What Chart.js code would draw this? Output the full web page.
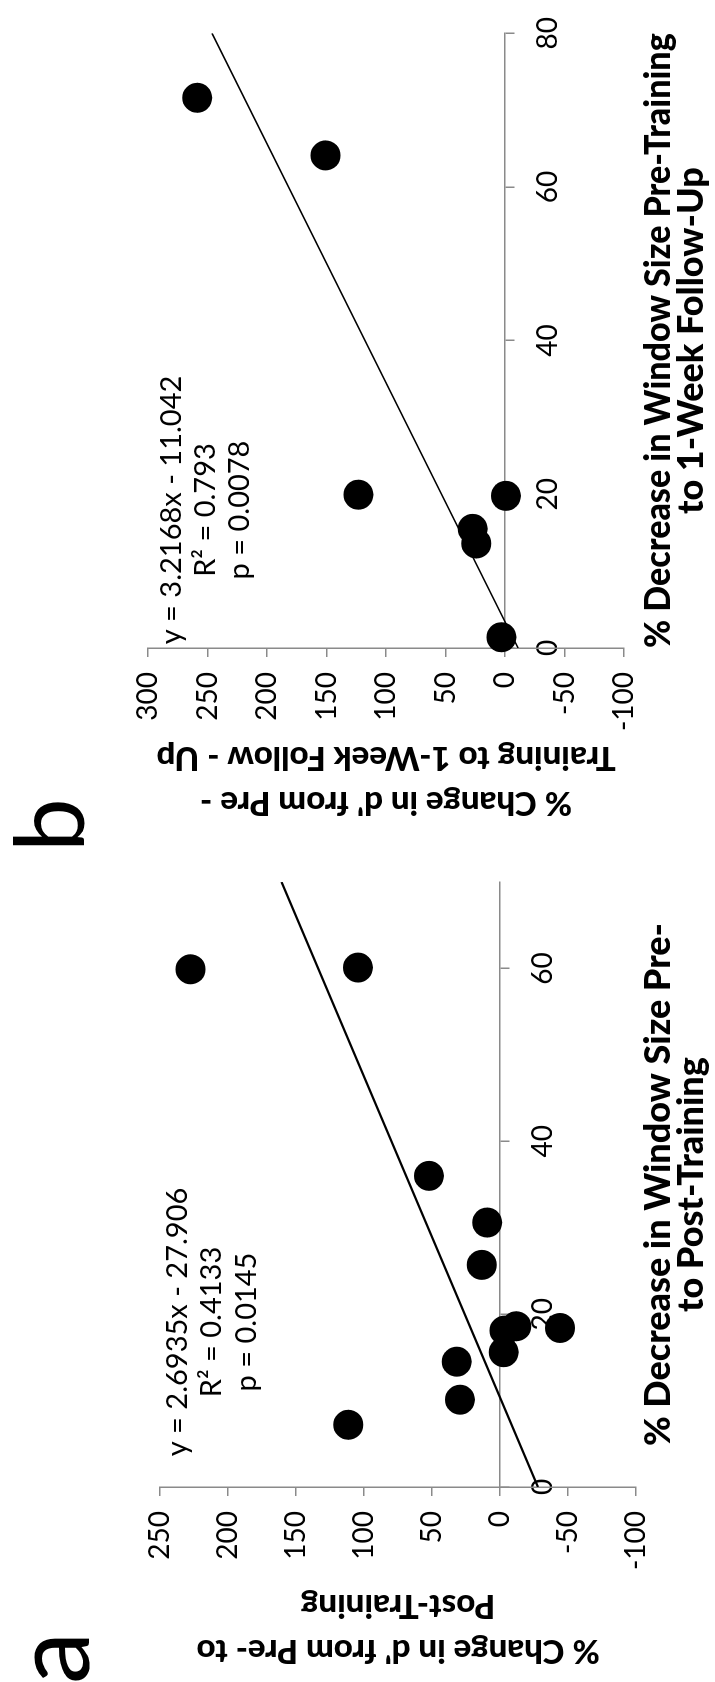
<!DOCTYPE html>
<html>
<head>
<meta charset="utf-8">
<title>Window size decrease vs change in d'</title>
<script src="https://cdn.jsdelivr.net/npm/chart.js@4.4.1/dist/chart.umd.min.js"></script>
<style>
  html, body { margin: 0; padding: 0; background: #fff; overflow: hidden; }
  body { width: 715px; height: 1682px; position: relative; }
  /* the two-panel figure is laid out landscape and turned a quarter-turn counter-clockwise */
  #figure {
    position: absolute; left: 0; top: 0;
    width: 1682px; height: 715px;
    transform-origin: 0 0;
    transform: translate(0, 1682px) rotate(-90deg);
    background: #fff;
  }
  #figure canvas { position: absolute; top: 0; }
</style>
</head>
<body>
<div id="figure">
  <canvas id="panelA" width="815" height="715" style="left:0px"></canvas>
  <canvas id="panelB" width="867" height="715" style="left:815px"></canvas>
</div>
<script>
// ---- Panel a: pre- to post-training ----
const aWindowDecrease = [59.9, 60.1, 36.0, 30.6, 25.7, 18.6, 18.1, 18.4, 15.6, 14.5, 10.1, 7.2];
const aDprimeChange   = [227.5, 104.4, 52.2, 9.4, 13.4, -12.0, -3.3, -44.2, -2.7, 31.8, 29.4, 111.5];
const aSlope = 2.6935, aIntercept = -27.906, aR2 = '0.4133', aP = '0.0145';
const aXRange = [0, 70], aYRange = [-100, 250];

// ---- Panel b: pre-training to 1-week follow-up ----
const bWindowDecrease = [71.6, 64.1, 19.95, 19.8, 15.5, 13.6, 1.4];
const bDprimeChange   = [258.6, 150.8, 123.2, -0.8, 27.2, 24.1, 3.0];
const bSlope = 3.2168, bIntercept = -11.042, bR2 = '0.793', bP = '0.0078';
const bXRange = [0, 80], bYRange = [-100, 300];

const xTickStep = 20, yTickStep = 50;

const aXTitle = ['% Decrease in Window Size Pre-', 'to Post-Training'];
const aYTitle = ["% Change in d' from Pre- to", 'Post-Training'];
const bXTitle = ['% Decrease in Window Size Pre-Training', 'to 1-Week Follow-Up'];
const bYTitle = ["% Change in d' from Pre -", 'Training to 1-Week Follow - Up'];

const AXIS_GREY = '#8a8a8a';
const FONT = 'Lato';
Chart.defaults.font.family = FONT;
Chart.defaults.color = '#000';

// draws the fit statistics and the panel letter on top of each chart
const panelText = {
  id: 'panelText',
  afterDraw(chart, args, opts) {
    const ctx = chart.ctx;
    ctx.save();
    ctx.fillStyle = '#000';
    for (const t of opts.items) {
      ctx.font = t.font;
      ctx.textAlign = t.align || 'center';
      ctx.textBaseline = t.baseline || 'middle';
      ctx.fillText(t.text, t.x, t.y);
    }
    ctx.restore();
  }
};

function fitEquation(slope, intercept) {
  const sign = intercept < 0 ? '-' : '+';
  return 'y = ' + slope + 'x ' + sign + ' ' + Math.abs(intercept);
}

function buildPanel(id, cfg) {
  const points = cfg.xs.map((x, i) => ({ x: x, y: cfg.ys[i] }));
  const trend = cfg.xRange.map(x => ({ x: x, y: cfg.slope * x + cfg.intercept }));
  const zeroPx = cfg.area.top + (cfg.yRange[1] / (cfg.yRange[1] - cfg.yRange[0])) * (cfg.area.bottom - cfg.area.top);
  const xTitleLine = 33;
  const yTitleLine = 45;

  return new Chart(document.getElementById(id), {
    type: 'scatter',
    data: {
      datasets: [
        {
          data: trend,
          showLine: true,
          borderColor: '#000',
          borderWidth: cfg.lineWidth,
          pointRadius: 0,
          fill: false
        },
        {
          data: points,
          backgroundColor: '#000',
          borderWidth: 0,
          pointRadius: 15,
          clip: false
        }
      ]
    },
    options: {
      responsive: false,
      animation: false,
      events: [],
      layout: { padding: cfg.padding },
      plugins: {
        legend: { display: false },
        tooltip: { enabled: false },
        panelText: { items: cfg.texts }
      },
      scales: {
        x: {
          type: 'linear',
          min: cfg.xRange[0],
          max: cfg.xRange[1],
          position: { y: 0 },
          grid: { drawOnChartArea: false, drawTicks: true, tickLength: 9, color: AXIS_GREY, lineWidth: 1.5 },
          border: { display: true, color: AXIS_GREY, width: 1.5 },
          ticks: { stepSize: xTickStep, includeBounds: false, padding: 17, maxRotation: 0, autoSkip: false,
                   font: { size: 28 }, color: '#000' },
          title: { display: true, text: cfg.xTitle, color: '#000', padding: 0,
                   font: { size: 36, weight: 900, lineHeight: xTitleLine / 36 } },
          afterFit(scale) { scale.height = cfg.xTitleBottom - zeroPx + xTitleLine / 2; }
        },
        y: {
          type: 'linear',
          min: cfg.yRange[0],
          max: cfg.yRange[1],
          position: 'left',
          grid: { drawOnChartArea: false, drawTicks: true, tickLength: 9, color: AXIS_GREY, lineWidth: 1.5 },
          border: { display: true, color: AXIS_GREY, width: 1.5 },
          ticks: { stepSize: yTickStep, padding: 15, font: { size: 28 }, color: '#000' },
          title: { display: true, text: cfg.yTitle, color: '#000',
                   padding: { top: cfg.yTitleLeft - yTitleLine / 2, bottom: 0 },
                   font: { size: 33, weight: 900, lineHeight: yTitleLine / 33 } },
          afterFit(scale) { scale.width = cfg.yAxisWidth; }
        }
      }
    },
    plugins: [panelText]
  });
}

const statFont = '29px ' + FONT;

buildPanel('panelA', {
  xs: aWindowDecrease, ys: aDprimeChange,
  slope: aSlope, intercept: aIntercept,
  xRange: aXRange, yRange: aYRange,
  xTitle: aXTitle, yTitle: aYTitle,
  lineWidth: 2.2,
  area: { top: 160, bottom: 636 },
  padding: { left: 0, top: 160, right: 2, bottom: 79 },
  yAxisWidth: 195,
  yTitleLeft: 31,
  xTitleBottom: 691,
  texts: [
    { text: fitEquation(aSlope, aIntercept), x: 360, y: 178, font: statFont },
    { text: 'R² = ' + aR2, x: 360, y: 212, font: statFont },
    { text: 'p = ' + aP, x: 360, y: 247, font: statFont },
    { text: 'a', x: -2, y: 89, font: '105px ' + FONT, align: 'left', baseline: 'alphabetic' }
  ]
});

buildPanel('panelB', {
  xs: bWindowDecrease, ys: bDprimeChange,
  slope: bSlope, intercept: bIntercept,
  xRange: bXRange, yRange: bYRange,
  xTitle: bXTitle, yTitle: bYTitle,
  lineWidth: 1.6,
  area: { top: 148, bottom: 624 },
  padding: { left: 0, top: 148, right: 7, bottom: 91 },
  yAxisWidth: 219,
  yTitleLeft: 64,
  xTitleBottom: 691,
  texts: [
    { text: fitEquation(bSlope, bIntercept), x: 357, y: 172, font: statFont },
    { text: 'R² = ' + bR2, x: 357, y: 206, font: statFont },
    { text: 'p = ' + bP, x: 357, y: 240, font: statFont },
    { text: 'b', x: 15, y: 84, font: '96px ' + FONT, align: 'left', baseline: 'alphabetic' }
  ]
});
</script>
</body>
</html>
